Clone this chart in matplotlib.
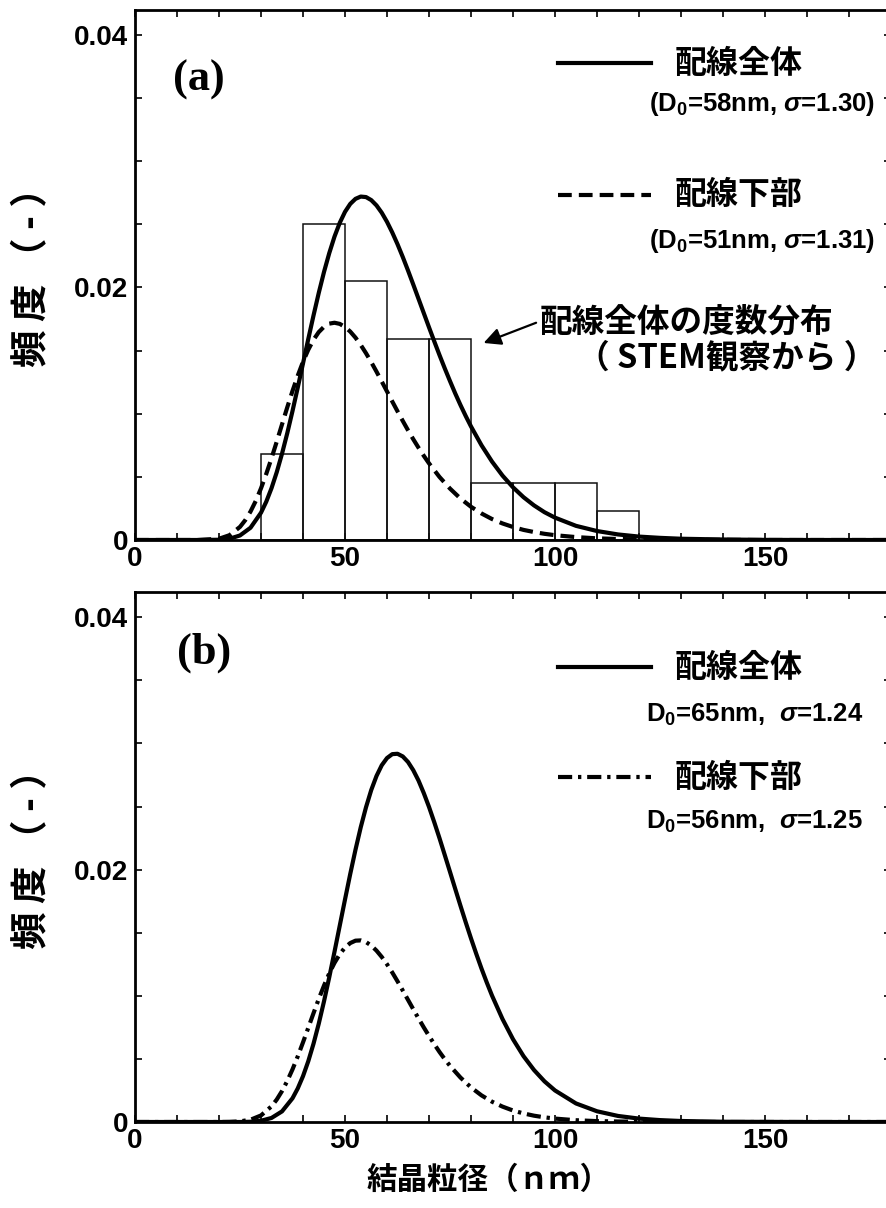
import matplotlib
matplotlib.use('Agg')
import matplotlib.pyplot as plt
from matplotlib.lines import Line2D

plt.rcParams['font.family'] = ['Liberation Sans', 'Noto Sans CJK JP']
plt.rcParams['font.weight'] = 'bold'
plt.rcParams['mathtext.fontset'] = 'custom'
plt.rcParams['mathtext.rm'] = 'Liberation Sans:bold'
plt.rcParams['mathtext.it'] = 'Liberation Sans:italic:bold'
plt.rcParams['mathtext.bf'] = 'Liberation Sans:bold'

# ---------------- data ----------------
# (a) whole wiring, fitted curve (D0=58nm, sigma=1.30)
a_whole_x = [0, 10, 15, 20, 22.5, 25, 27.5, 30,
             31.25, 32.5, 33.75, 35, 36.25, 37.5, 38.75, 40, 41.25, 42.5,
             43.75, 45, 46.25, 47.5, 48.75, 50, 51.25, 52.5, 53.75, 55,
             56.25, 57.5, 58.75, 60, 61.25, 62.5, 63.75, 65, 66.25, 67.5,
             68.75, 70, 71.25, 72.5, 73.75, 75, 76.25, 77.5, 78.75, 80,
             82.5, 85, 87.5, 90, 92.5, 95, 97.5, 100,
             105, 110, 115, 120, 125, 130, 140, 150, 160, 170, 180]
a_whole_y = [0, 0, 0, 0.00002, 0.00010, 0.00036, 0.00097, 0.00216,
             0.00303, 0.00410, 0.00537, 0.00683, 0.00845, 0.01021, 0.01207, 0.01398, 0.01590, 0.01777,
             0.01956, 0.02122, 0.02271, 0.02402, 0.02511, 0.02598, 0.02661, 0.02701, 0.02719, 0.02715,
             0.02691, 0.02649, 0.02591, 0.02519, 0.02435, 0.02342, 0.02241, 0.02134, 0.02023, 0.01910,
             0.01797, 0.01684, 0.01573, 0.01464, 0.01359, 0.01258, 0.01160, 0.01068, 0.00981, 0.00899,
             0.00750, 0.00621, 0.00510, 0.00417, 0.00339, 0.00274, 0.00220, 0.00177,
             0.00112, 0.00071, 0.00044, 0.00027, 0.00017, 0.00010, 0.00004, 0.00001, 0, 0, 0]

# (a) lower part of wiring (D0=51nm, sigma=1.31)
a_lower_x = [0, 10, 15, 20, 22.5, 25,
             26.25, 27.5, 28.75, 30, 31.25, 32.5, 33.75, 35, 36.25, 37.5,
             38.75, 40, 41.25, 42.5, 43.75, 45, 46.25, 47.5, 48.75, 50,
             51.25, 52.5, 53.75, 55, 56.25, 57.5, 58.75, 60, 61.25, 62.5,
             63.75, 65, 66.25, 67.5, 68.75, 70,
             72.5, 75, 77.5, 80, 82.5, 85, 87.5, 90, 92.5, 95, 97.5, 100,
             105, 110, 115, 120, 125, 130, 140, 150, 160, 170, 180]
a_lower_y = [0, 0, 0, 0.00010, 0.00038, 0.00104,
             0.00157, 0.00225, 0.00309, 0.00409, 0.00523, 0.00647, 0.00779, 0.00915, 0.01050, 0.01180,
             0.01301, 0.01411, 0.01506, 0.01585, 0.01646, 0.01688, 0.01713, 0.01720, 0.01711, 0.01687,
             0.01650, 0.01602, 0.01544, 0.01479, 0.01408, 0.01333, 0.01255, 0.01176, 0.01097, 0.01019,
             0.00943, 0.00869, 0.00798, 0.00731, 0.00667, 0.00607,
             0.00499, 0.00407, 0.00328, 0.00263, 0.00210, 0.00166, 0.00131, 0.00103, 0.00080, 0.00063,
             0.00049, 0.00038,
             0.00023, 0.00013, 0.00008, 0.00005, 0.00003, 0.00002, 0.00001, 0, 0, 0, 0]

# (b) whole wiring (D0=65nm, sigma=1.24)
b_whole_x = [0, 10, 15, 20, 22.5, 25, 27.5, 30, 32.5, 35, 37.5,
             38.75, 40, 41.25, 42.5, 43.75, 45, 46.25, 47.5, 48.75, 50,
             51.25, 52.5, 53.75, 55, 56.25, 57.5, 58.75, 60, 61.25, 62.5,
             63.75, 65, 66.25, 67.5, 68.75, 70, 71.25, 72.5, 73.75, 75,
             76.25, 77.5, 78.75, 80, 81.25, 82.5, 83.75, 85,
             87.5, 90, 92.5, 95, 97.5, 100,
             105, 110, 115, 120, 125, 130, 140, 150, 160, 170, 180]
b_whole_y = [0, 0, 0, 0, 0, 0, 0.00002, 0.00010, 0.00032, 0.00084, 0.00188,
             0.00266, 0.00363, 0.00481, 0.00620, 0.00779, 0.00956, 0.01147, 0.01349, 0.01556, 0.01763,
             0.01966, 0.02158, 0.02336, 0.02494, 0.02631, 0.02742, 0.02827, 0.02884, 0.02915, 0.02918,
             0.02897, 0.02853, 0.02788, 0.02706, 0.02607, 0.02497, 0.02376, 0.02249, 0.02116, 0.01982,
             0.01847, 0.01713, 0.01582, 0.01455, 0.01333, 0.01216, 0.01106, 0.01002,
             0.00816, 0.00656, 0.00522, 0.00412, 0.00322, 0.00250,
             0.00147, 0.00085, 0.00048, 0.00027, 0.00015, 0.00008, 0.00002, 0.00001, 0, 0, 0]

# (b) lower part of wiring (D0=56nm, sigma=1.25)
b_lower_x = [0, 10, 15, 20, 22.5, 25, 27.5, 30, 32.5,
             33.75, 35, 36.25, 37.5, 38.75, 40, 41.25, 42.5, 43.75, 45,
             46.25, 47.5, 48.75, 50, 51.25, 52.5, 53.75, 55, 56.25, 57.5,
             58.75, 60, 61.25, 62.5, 63.75, 65, 66.25, 67.5, 68.75, 70,
             71.25, 72.5, 73.75, 75,
             77.5, 80, 82.5, 85, 87.5, 90, 92.5, 95, 97.5, 100,
             105, 110, 115, 120, 125, 130, 140, 150, 160, 170, 180]
b_lower_y = [0, 0, 0, 0, 0.00001, 0.00005, 0.00018, 0.00052, 0.00124,
             0.00178, 0.00245, 0.00325, 0.00417, 0.00520, 0.00631, 0.00746, 0.00862, 0.00975, 0.01081,
             0.01178, 0.01261, 0.01330, 0.01383, 0.01418, 0.01437, 0.01439, 0.01426, 0.01398, 0.01358,
             0.01308, 0.01250, 0.01185, 0.01115, 0.01042, 0.00968, 0.00894, 0.00821, 0.00750, 0.00682,
             0.00617, 0.00555, 0.00498, 0.00445,
             0.00352, 0.00274, 0.00211, 0.00161, 0.00122, 0.00091, 0.00068, 0.00050, 0.00037, 0.00027,
             0.00014, 0.00007, 0.00004, 0.00002, 0.00001, 0, 0, 0, 0, 0, 0]

# histogram (STEM observation), 10 nm bins
hist_left = [30, 40, 50, 60, 70, 80, 90, 100, 110]
hist_freq = [0.0068, 0.0250, 0.0205, 0.0159, 0.0159, 0.0045, 0.0045, 0.0045, 0.0023]

x_ticks = [0, 50, 100, 150]
x_ticklabels = ['0', '50', '100', '150']
x_minor = [0, 10, 20, 30, 40, 50, 60, 70, 80, 90, 100, 110, 120, 130, 140, 150, 160, 170, 180]
y_ticks = [0, 0.02, 0.04]
y_ticklabels = ['0', '0.02', '0.04']
y_minor = [0, 0.005, 0.01, 0.015, 0.02, 0.025, 0.03, 0.035, 0.04]

# ---------------- figure ----------------
W, H = 886, 1208
fig = plt.figure(figsize=(W / 100, H / 100), dpi=100)

def fy(y):
    return 1 - y / H

CJK = ['Noto Sans CJK JP', 'DejaVu Sans']
LW = 3.0
DASH = (3.3, 1.7)
DASHDOT = (3.4, 1.4, 0.8, 1.4)

ax_a = fig.add_axes([135 / W, 1 - 540 / H, 756 / W, 530.5 / H])
ax_b = fig.add_axes([135 / W, 1 - 1122 / H, 756 / W, 530 / H])

for ax in (ax_a, ax_b):
    ax.set_xlim(0, 180)
    ax.set_ylim(0, 0.042)
    ax.set_xticks(x_ticks)
    ax.set_xticklabels(x_ticklabels)
    ax.set_xticks(x_minor, minor=True)
    ax.set_yticks(y_ticks)
    ax.set_yticklabels(y_ticklabels)
    ax.set_yticks(y_minor, minor=True)
    ax.tick_params(which='both', direction='in', top=True, right=True,
                   length=5, width=1.2)
    ax.tick_params(axis='x', which='major', pad=4, labelsize=20)
    ax.tick_params(axis='y', which='major', pad=5, labelsize=20)
    for lab in ax.get_xticklabels() + ax.get_yticklabels():
        lab.set_fontweight('bold')
    for sp in ax.spines.values():
        sp.set_linewidth(2.0)

# panel (a)
ax_a.bar(hist_left, hist_freq, width=10, align='edge', fill=False,
         edgecolor='#111111', linewidth=1.1, zorder=2)
ax_a.plot(a_whole_x, a_whole_y, color='black', lw=LW, zorder=3,
          solid_joinstyle='round')
ax_a.plot(a_lower_x, a_lower_y, color='black', lw=LW, dashes=DASH, zorder=3)

# panel (b)
ax_b.plot(b_whole_x, b_whole_y, color='black', lw=LW, zorder=3,
          solid_joinstyle='round')
ax_b.plot(b_lower_x, b_lower_y, color='black', lw=LW, dashes=DASHDOT, zorder=3)

# legend keys
def key(y, **kw):
    fig.add_artist(Line2D([558 / W, 651 / W], [fy(y), fy(y)], color='black',
                          lw=LW, transform=fig.transFigure, **kw))

key(63)
key(195, dashes=DASH)
key(667)
key(777, dashes=DASHDOT)

tkw = dict(family=CJK, weight='bold', fontsize=23, va='center', ha='left')
fig.text(675 / W, fy(64), '配線全体', **tkw)
fig.text(675 / W, fy(195), '配線下部', **tkw)
fig.text(675 / W, fy(668), '配線全体', **tkw)
fig.text(675 / W, fy(778), '配線下部', **tkw)

pkw = dict(fontsize=18.5, weight='bold', va='center', ha='right')
fig.text(875 / W, fy(104), r'(D$_\mathrm{0}$=58nm, $\sigma$=1.30)', **pkw)
fig.text(875 / W, fy(241), r'(D$_\mathrm{0}$=51nm, $\sigma$=1.31)', **pkw)
fig.text(863 / W, fy(715), r'D$_\mathrm{0}$=65nm,  $\sigma$=1.24', **pkw)
fig.text(863 / W, fy(822), r'D$_\mathrm{0}$=56nm,  $\sigma$=1.25', **pkw)

# panel labels
fig.text(173 / W, fy(80), '(a)', family='Liberation Serif', weight='bold',
         fontsize=32, va='center', ha='left')
fig.text(177 / W, fy(653), '(b)', family='Liberation Serif', weight='bold',
         fontsize=32, va='center', ha='left')

# annotation for histogram
ax_a.annotate('', xy=(83, 0.0156), xytext=(95.5, 0.0172),
              arrowprops=dict(arrowstyle='-|>', color='black', lw=1.6,
                              mutation_scale=26, shrinkA=0, shrinkB=0))
fig.text(540 / W, fy(322), '配線全体の度数分布', family=CJK, weight='bold',
         fontsize=23.5, va='center', ha='left')
fig.text(876 / W, fy(358), '（ STEM観察から ）', family=CJK, weight='bold',
         fontsize=23.5, va='center', ha='right')

# axis labels
fig.text(32 / W, fy(268), '頻 度 （ - ）', family=CJK, weight='bold', fontsize=27,
         rotation=90, va='center', ha='center')
fig.text(32 / W, fy(850), '頻 度 （ - ）', family=CJK, weight='bold', fontsize=27,
         rotation=90, va='center', ha='center')
fig.text(489 / W, fy(1180), '結晶粒径（ｎｍ）', family=CJK, weight='bold',
         fontsize=22, va='center', ha='center')

fig.savefig('out.png', dpi=100)
